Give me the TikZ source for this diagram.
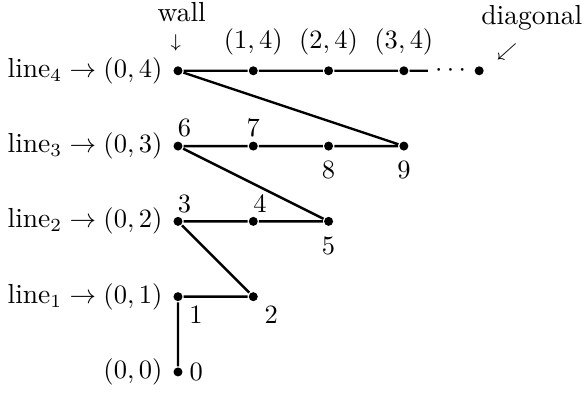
\documentclass[tikz,border=0pt]{standalone}
\usepackage{amsmath}
\begin{document}
\begin{tikzpicture}[x=1cm, y=1cm, line width=0.9pt,
    every node/.style={font=\fontsize{10.4}{12.5}\selectfont},
    pt/.style={circle, fill, inner sep=0pt, minimum size=3.4pt},
    up/.style={label={[xshift=2.5pt, yshift=-2.5pt]above:$#1$}},
    upc/.style={label={[yshift=-2.5pt]above:$#1$}},
    down/.style={label={below:$#1$}},
    downr/.style={label={[xshift=-1pt, yshift=1.5pt]below right:$#1$}},
    line/.style={label={left:$\text{line}_{#1}\to(0,#1)$}},
    small/.style={font=\scriptsize}]
  \useasboundingbox (-2.364,-0.292) rectangle (5.432,4.940);
  % the points of the walk, numbered in the order they are visited
  \node[pt, label={[xshift=-1.5pt]right:$0$}, label={left:$(0,0)$}] (n0) at (0,0) {};
  \node[pt, downr=1, line=1] (n1) at (0,1) {};
  \node[pt, downr=2] (n2) at (1,1) {};
  \node[pt, up=3, line=2] (n3) at (0,2) {};
  \node[pt, up=4] (n4) at (1,2) {};
  \node[pt, down=5] (n5) at (2,2) {};
  \node[pt, up=6, line=3] (n6) at (0,3) {};
  \node[pt, upc=7] (n7) at (1,3) {};
  \node[pt, down=8] (n8) at (2,3) {};
  \node[pt, down=9] (n9) at (3,3) {};
  \node[pt, line=4] (n10) at (0,4) {};
  \foreach \k in {1,2,3}
    \node[pt, label={above:$(\k,4)$}] (a\k) at (\k,4) {};
  \coordinate (tail) at (3.32,4);
  \node (dots) at (3.65,4) {$\cdots$};
  \node[pt] (diag) at (4,4) {};
  \draw (n0) -- (n1) -- (n2) -- (n3) -- (n4) -- (n5) -- (n6) -- (n7) -- (n8) -- (n9)
    -- (n10) -- (a1) -- (a2) -- (a3) -- (tail);
  % notes on top
  \node (wall) at (0.05,4.78) {wall};
  \node[small] (wallarr) at (-0.03,4.37) {$\downarrow$};
  \node (diagtxt) at (4.70,4.71) {diagonal};
  \node[small] (diagarr) at (4.37,4.25) {$\swarrow$};
\end{tikzpicture}
\end{document}
